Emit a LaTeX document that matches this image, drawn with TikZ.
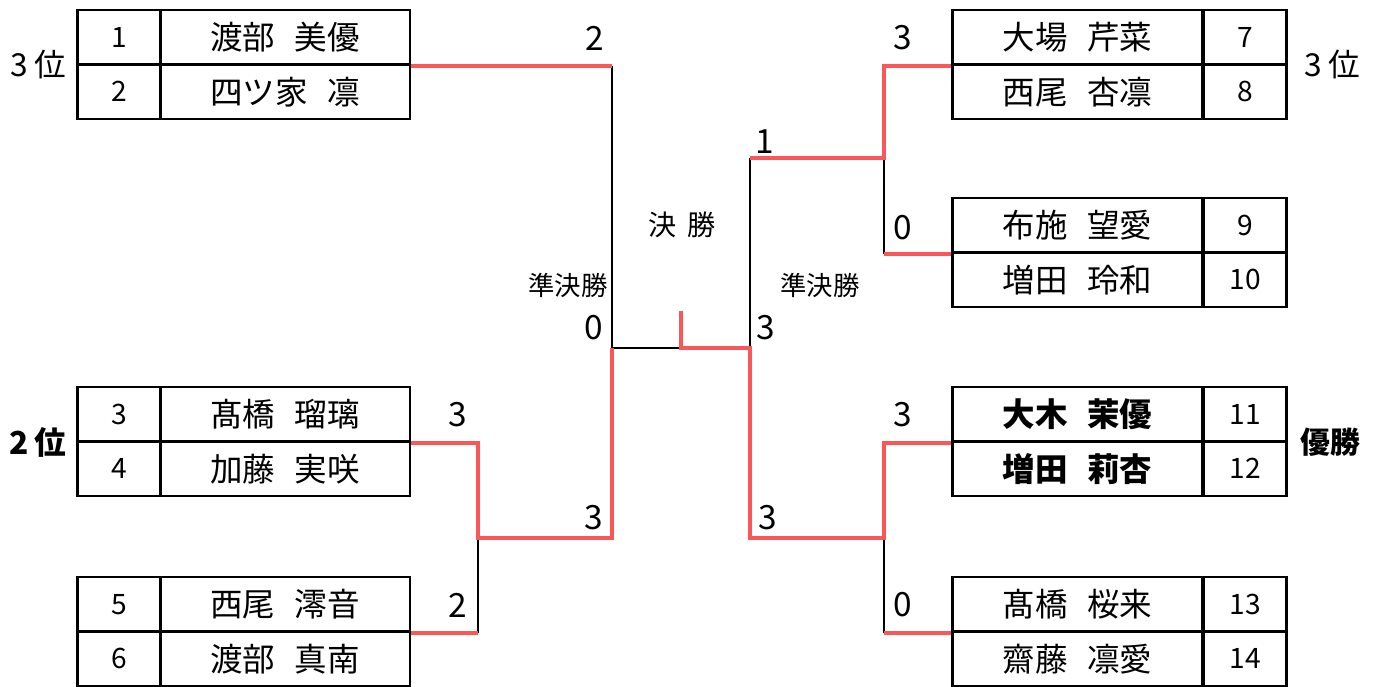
\documentclass[tikz,border=0pt]{standalone}
\usepackage{fontspec}
\setmainfont{Noto Sans CJK JP}
\definecolor{winred}{RGB}{250,88,88}
\newcommand{\namesep}{\hspace{0.6em}}

\begin{document}
\begin{tikzpicture}[x=0.02cm,y=-0.02cm,
  cell/.style={draw,line width=1.3pt,minimum height=1.09cm,inner sep=0pt},
  seedcell/.style={cell,minimum width=1.66cm,font=\fontsize{16}{16}\selectfont},
  namecell/.style={cell,minimum width=5cm,font=\fontsize{18.5}{18.5}\selectfont},
  score/.style={font=\fontsize{19}{19}\selectfont},
  rank/.style={font=\fontsize{18}{18}\selectfont},
  roundlabel/.style={font=\fontsize{15}{15}\selectfont},
  win/.style={winred,line width=2.3pt},
  lose/.style={black,line width=1.1pt}]
\useasboundingbox (0,0) rectangle (1375,686);

% left side players
\foreach \i/\y/\nm in {1/37.25/{渡部\namesep 美優},2/91.75/{四ツ家\namesep 凛},
  3/414.25/{髙橋\namesep 瑠璃},4/468.75/{加藤\namesep 実咲},
  5/604.25/{西尾\namesep 澪音},6/658.75/{渡部\namesep 真南}}{
\node[seedcell] (s\i) at (119,\y) {\i};
\node[namecell] (p\i) at (285,\y) {\nm};
}
% right side players
\foreach \i/\y/\nm/\wt in {7/37.25/{大場\namesep 芹菜}/\mdseries,8/91.75/{西尾\namesep 杏凛}/\mdseries,
  9/225.25/{布施\namesep 望愛}/\mdseries,10/279.75/{増田\namesep 玲和}/\mdseries,
  11/414.25/{大木\namesep 茉優}/\bfseries,12/468.75/{増田\namesep 莉杏}/\bfseries,
  13/604.25/{髙橋\namesep 桜来}/\mdseries,14/658.75/{齋藤\namesep 凛愛}/\mdseries}{
\node[namecell] (p\i) at (1077.5,\y) {\wt\nm};
\node[seedcell] (s\i) at (1245,\y) {\i};
}

% bracket corners
\coordinate (lq1) at (p1.south east -| 612,0);
\coordinate (lsf) at (612,348);
\coordinate (lq2) at (612,538);
\coordinate (lr1a) at (p3.south east -| 478,0);
\coordinate (lr1m) at (478,538);
\coordinate (lr1b) at (p5.south east -| 478,0);
\coordinate (fin) at (681,348);
\coordinate (fintop) at (681,311);
\coordinate (rsf) at (750,348);
\coordinate (rq1) at (750,158);
\coordinate (rq2) at (750,538);
\coordinate (rr1a) at (p7.south west -| 884,0);
\coordinate (rr1m) at (884,158);
\coordinate (rr1b) at (p9.south west -| 884,0);
\coordinate (rr2a) at (p11.south west -| 884,0);
\coordinate (rr2m) at (884,538);
\coordinate (rr2b) at (p13.south west -| 884,0);

% lost lines
\draw[lose] (lq1) -- (lsf) -- (fin);
\draw[lose] (lr1m) -- (lr1b);
\draw[lose] (rsf) -- (rq1);
\draw[lose] (rr1m) -- (rr1b);
\draw[lose] (rr2m) -- (rr2b);

% won lines
\draw[win] (p1.south east) -- (lq1);
\draw[win] (p3.south east) -- (lr1a) -- (lr1m) -- (lq2) -- (lsf);
\draw[win] (p5.south east) -- (lr1b);
\draw[win] (fintop) -- (fin) -- (rsf) -- (rq2) -- (rr2m) -- (rr2a) -- (p11.south west);
\draw[win] (rq1) -- (rr1m) -- (rr1a) -- (p7.south west);
\draw[win] (rr1b) -- (p9.south west);
\draw[win] (rr2b) -- (p13.south west);

% scores
\node[score] (sl1) at (595,38) {2};
\node[score] (sl2) at (594,328) {0};
\node[score] (sl3) at (458,415) {3};
\node[score] (sl4) at (458,605) {2};
\node[score] (sl5) at (594,518) {3};
\node[score] (sr1) at (903,38) {3};
\node[score] (sr2) at (765,142) {1};
\node[score] (sr3) at (903,228) {0};
\node[score] (sr4) at (766,328) {3};
\node[score] (sr5) at (903,415) {3};
\node[score] (sr6) at (768,518) {3};
\node[score] (sr7) at (903,605) {0};

% rounds and ranks
\node[roundlabel] (sfl) at (568,285) {準決勝};
\node[roundlabel] (sfr) at (820,285) {準決勝};
\node[roundlabel,font=\fontsize{16}{16}\selectfont] (fnl) at (682,225) {決\hspace{0.4em}勝};
\node[rank] (rk1) at (38,64) {3\hspace{0.2em}位};
\node[rank,font=\fontsize{18}{18}\selectfont\bfseries] (rk2) at (38,442) {2\hspace{0.2em}位};
\node[rank] (rk3) at (1332,64) {3\hspace{0.2em}位};
\node[rank,font=\fontsize{17}{17}\selectfont\bfseries] (rk4) at (1330,442) {優勝};
\end{tikzpicture}
\end{document}
